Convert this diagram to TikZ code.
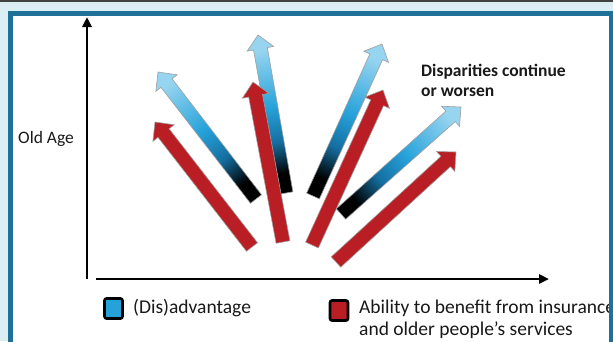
\documentclass[tikz,border=0pt]{standalone}
\usepackage{fontspec}
\setmainfont{Carlito}
\usetikzlibrary{arrows.meta}

\definecolor{pagebg}{RGB}{219,238,244}
\definecolor{framebl}{RGB}{31,113,152}
\definecolor{advdark}{RGB}{20,110,160}
\definecolor{advmid}{RGB}{38,162,218}
\definecolor{advlight}{RGB}{150,212,240}
\definecolor{abilred}{RGB}{184,30,35}
\pgfdeclarehorizontalshading{advshade}{100bp}{color(0bp)=(black); color(25bp)=(black); color(31bp)=(black); color(41bp)=(advdark); color(52bp)=(advmid); color(70bp)=(advlight); color(100bp)=(advlight)}

\begin{document}
\begin{tikzpicture}[
    x=1pt, y=-1pt,
    adv/.style={draw=gray!75, line width=0.6pt, shade, shading=advshade},
    ability/.style={draw=gray!75, line width=0.6pt, fill=abilred},
    axis/.style={line width=2.6pt, -{Triangle[length=10pt,width=9pt]}},
    key/.style={draw=black, line width=2.6pt, rounded corners=2pt, minimum width=18pt, minimum height=20pt, inner sep=0pt},
    lbl/.style={inner sep=0pt, text=black!90, align=left, font=\fontsize{19.5}{22}\selectfont}
]
    \useasboundingbox (0,0) rectangle (613,341);

    % Panel background
    \fill[pagebg] (0,0) rectangle (613,341);
    \draw[gray!50!black, line width=1.5pt] (0,0.75) -- (613,0.75);
    \fill[white] (10.5,13.5) rectangle (611.5,350);

    % Block arrows: blue ones first, red ones on top
    \foreach \arr/\tx/\ty/\hx/\hy/\kind in {b1/256/199/158/72/adv, b2/286/193/258/35/adv, b3/313/196/382/44/adv, b4/341/214/461/107/adv,
        r1/252/247/155/122/ability, r2/283/242/253/82/ability, r3/312/245/383/90/ability, r4/336/262/456/152/ability}{
        \coordinate (\arr-tail) at (\tx,\ty);
        \coordinate (\arr-tip) at (\hx,\hy);
        \pgfmathsetmacro\len{veclen(\hx-\tx,\hy-\ty)}
        \pgfmathsetmacro\ang{atan2(\ty-\hy,\hx-\tx)}
        \begin{scope}[transform canvas={shift={(\arr-tail)}, rotate=\ang}]
            \path[\kind] (0pt,-7pt) -- ({\len pt-14pt},-7pt) -- ({\len pt-14pt},-13.5pt) -- (\len pt,0pt)
                -- ({\len pt-14pt},13.5pt) -- ({\len pt-14pt},7pt) -- (0pt,7pt) -- cycle;
        \end{scope}
    }

    % Axes
    \coordinate (ybot) at (87,279);
    \coordinate (ytop) at (87,17);
    \coordinate (xleft) at (96,279);
    \coordinate (xright) at (549,279);
    \draw[axis] (ybot) -- (ytop);
    \draw[axis] (xleft) -- (xright);

    % Labels
    \node[lbl, font=\fontsize{17.5}{20}\selectfont, anchor=base west] (oldage) at (18,143) {Old Age};
    \node[lbl, font=\fontsize{17.5}{20}\selectfont\bfseries, anchor=base west] (disp) at (421,96) {Disparities continue\\or worsen};

    % Legend
    \node[key, fill=advmid] (keyadv) at (113.5,308.5) {};
    \node[lbl, anchor=base west] (advtext) at (133,313) {(Dis)advantage};
    \node[key, fill=abilred] (keyabil) at (339,310.5) {};
    \node[lbl, anchor=base west] (abiltext) at (359,335) {Ability to benefit from insurance\\and older people’s services};

    % Frame
    \draw[framebl, line width=5pt] (10.5,350) -- (10.5,13.5) -- (611.5,13.5) -- (611.5,350);
\end{tikzpicture}
\end{document}
